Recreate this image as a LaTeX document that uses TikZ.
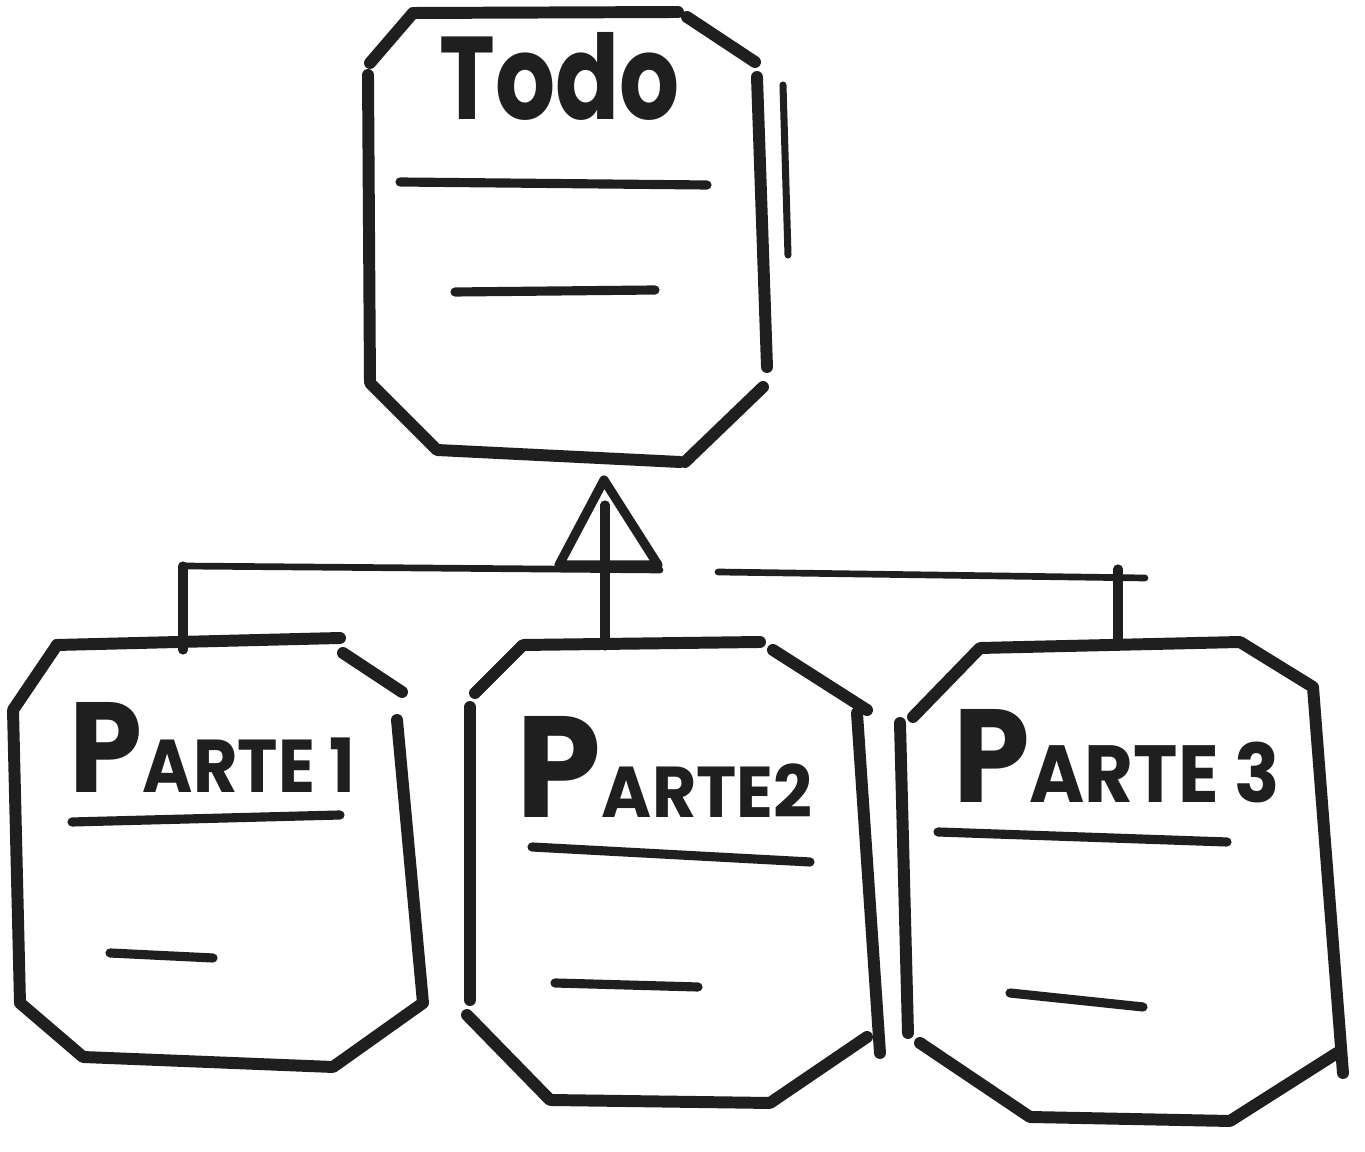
\documentclass[tikz,border=0pt]{standalone}
\usepackage{fontspec}
\setmainfont{Poppins}
\usepackage{graphicx}
\tikzset{
  ink/.style={draw=black!88, line cap=round, line join=round},
  boxline/.style={ink, line width=3.4pt},
  textline/.style={ink, line width=2.6pt},
  conn/.style={ink, line width=2.6pt},
  bus/.style={ink, line width=1.9pt},
  lbl/.style={inner sep=0pt, outer sep=0pt, text=black!88, font=\bfseries},
}
\begin{document}
\begin{tikzpicture}[x=0.01cm, y=-0.01cm]
\useasboundingbox[fill=white] (0,0) rectangle (1365,1152);

% ---------- Todo box ----------
\draw[boxline] (370,63) -- (413,13) -- (678,12);
\draw[boxline] (687,17) -- (755,62);
\draw[boxline] (757,77) -- (767,367);
\draw[boxline, line width=2pt] (783,85) -- (788,255);
\draw[boxline] (763,387) -- (685,462);
\draw[boxline] (368,75) -- (370,383) -- (437,450) -- (680,462);
\node[lbl, anchor=base] (todo) at (560,120) {\resizebox{2.4cm}{0.87cm}{Todo}};
\draw[textline] (400,182) -- (707,185);
\draw[textline] (455,292) -- (655,290);

% ---------- Parte 1 box ----------
\draw[boxline] (57,645) -- (340,638);
\draw[boxline] (343,653) -- (402,692);
\draw[boxline] (397,720) -- (423,1003) -- (333,1067) -- (83,1057) -- (20,1003) -- (13,710) -- (57,645);
\node[lbl, anchor=base west] (p1) at (70,793) {\resizebox{2.85cm}{0.9cm}{\fontsize{36}{36}\selectfont P\fontsize{21}{21}\selectfont ARTE 1}};
\draw[textline] (72,822) -- (340,815);
\draw[textline] (110,953) -- (213,958);

% ---------- Parte 2 box ----------
\draw[boxline] (475,693) -- (523,645) -- (760,642);
\draw[boxline] (773,650) -- (867,710);
\draw[boxline] (857,713) -- (880,1053);
\draw[boxline] (867,1037) -- (770,1103) -- (550,1100) -- (467,1015);
\draw[boxline] (470,707) -- (470,1000);
\node[lbl, anchor=base west] (p2) at (517,818) {\resizebox{2.95cm}{1.01cm}{\fontsize{40}{40}\selectfont P\fontsize{20}{20}\selectfont ARTE2}};
\draw[textline] (532,847) -- (810,862);
\draw[textline] (555,983) -- (698,987);

% ---------- Parte 3 box ----------
\draw[boxline] (913,717) -- (980,648) -- (1240,642) -- (1313,687) -- (1343,1073);
\draw[boxline] (1337,1053) -- (1230,1121) -- (1030,1117) -- (920,1043);
\draw[boxline] (900,723) -- (908,1033);
\node[lbl, anchor=base west] (p3) at (953,803) {\resizebox{3.27cm}{0.93cm}{\fontsize{36}{36}\selectfont P\fontsize{22}{22}\selectfont ARTE 3}};
\draw[textline] (938,832) -- (1227,842);
\draw[textline] (1010,993) -- (1143,1007);

% ---------- connectors ----------
\coordinate (p1top) at (183,650);
\coordinate (p2top) at (605,646);
\coordinate (p3top) at (1118,646);
\coordinate (busL) at (183,566);
\coordinate (busGapL) at (660,570);
\coordinate (busGapR) at (718,572);
\coordinate (busR) at (1145,578);
\coordinate (busRdrop) at (1118,569);
\coordinate (arrTip) at (604,480);
\coordinate (arrBL) at (559,565);
\coordinate (arrBR) at (658,565);

\draw[bus] (busL) -- (busGapL);
\draw[bus] (busGapR) -- (busR);
\draw[conn] (busL) -- (p1top);
\draw[conn] (busRdrop) -- (p3top);
\draw[conn] (p2top) -- (605,505);
\draw[conn] (arrTip) -- (arrBL) -- (arrBR) -- cycle;
\end{tikzpicture}
\end{document}
